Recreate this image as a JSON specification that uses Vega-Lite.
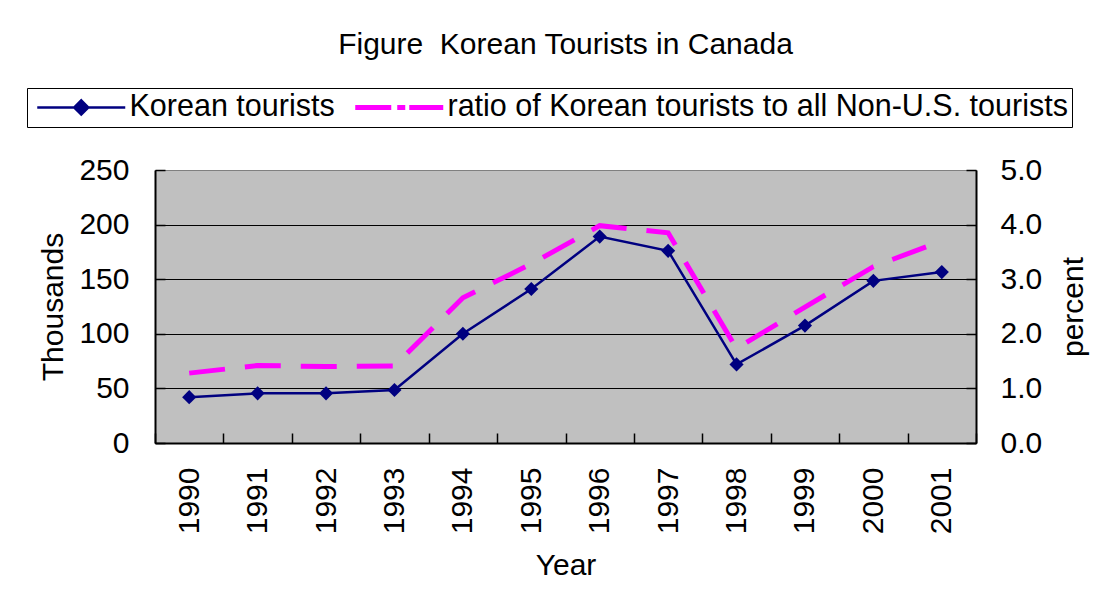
{
  "$schema": "https://vega.github.io/schema/vega-lite/v6.json",
  "width": 821,
  "height": 273,
  "autosize": "none",
  "padding": {"left": 155, "top": 170, "right": 128, "bottom": 157},
  "background": "white",
  "title": {
    "text": "Figure\u00a0 Korean Tourists in Canada",
    "font": "Liberation Sans",
    "fontSize": 30,
    "fontWeight": "normal",
    "color": "black",
    "anchor": "middle",
    "frame": "group",
    "offset": 28
  },
  "data": {
    "values": [
      {"year": "1990", "korean": 42, "ratio": 1.28},
      {"year": "1991", "korean": 45.5, "ratio": 1.42},
      {"year": "1992", "korean": 45.5, "ratio": 1.40},
      {"year": "1993", "korean": 48.5, "ratio": 1.41},
      {"year": "1994", "korean": 100, "ratio": 2.66},
      {"year": "1995", "korean": 141, "ratio": 3.28},
      {"year": "1996", "korean": 189, "ratio": 3.98},
      {"year": "1997", "korean": 176, "ratio": 3.85},
      {"year": "1998", "korean": 72, "ratio": 1.73},
      {"year": "1999", "korean": 107.5, "ratio": 2.49},
      {"year": "2000", "korean": 148.5, "ratio": 3.23},
      {"year": "2001", "korean": 156.5, "ratio": 3.70}
    ]
  },
  "encoding": {
    "x": {
      "field": "year",
      "type": "ordinal",
      "scale": {"type": "band", "paddingInner": 0, "paddingOuter": 0},
      "axis": {
        "title": "Year",
        "labelAngle": 270,
        "tickBand": "extent",
        "tickSize": -10,
        "labelPadding": 34,
        "titlePadding": 17
      }
    }
  },
  "layer": [
    {
      "mark": {"type": "line", "strokeWidth": 2.5},
      "encoding": {
        "y": {
          "field": "korean",
          "type": "quantitative",
          "scale": {"domain": [0, 250], "nice": false},
          "axis": {
            "title": "Thousands",
            "values": [0, 50, 100, 150, 200, 250],
            "grid": true,
            "gridColor": {"condition": {"test": "datum.value === 250", "value": "#808080"}, "value": "black"},
            "gridWidth": 1,
            "tickSize": -10,
            "labelPadding": 36,
            "titlePadding": 10
          }
        },
        "color": {
          "datum": "Korean tourists",
          "scale": {
            "domain": ["Korean tourists", "ratio of Korean tourists to all Non-U.S. tourists"],
            "range": ["#000080", "#FF00FF"]
          },
          "legend": {
            "orient": "none",
            "legendX": -128,
            "legendY": -82,
            "direction": "horizontal",
            "title": null,
            "strokeColor": "black",
            "padding": 4,
            "symbolSize": 7744,
            "symbolOffset": 35,
            "labelOffset": 33,
            "labelLimit": 1000,
            "columnPadding": 10,
            "labelFont": "Liberation Sans",
            "labelFontSize": 30.5,
            "labelColor": "black",
            "encode": {
              "symbols": {
                "update": {
                  "shape": {"signal": "datum.value === 'Korean tourists' ? 'M-1,0H1M0,-0.16L0.16,0L0,0.16L-0.16,0Z' : 'M-1,0H1'"},
                  "strokeDash": {"signal": "datum.value === 'Korean tourists' ? [] : [36, 6, 8, 4]"},
                  "fill": {"signal": "datum.value === 'Korean tourists' ? '#000080' : 'transparent'"},
                  "strokeWidth": {"signal": "datum.value === 'Korean tourists' ? 2.5 : 5"}
                }
              }
            }
          }
        }
      }
    },
    {
      "mark": {"type": "point", "shape": "diamond", "size": 200, "filled": true, "color": "#000080", "opacity": 1},
      "encoding": {
        "y": {"field": "korean", "type": "quantitative", "scale": {"domain": [0, 250], "nice": false}, "axis": null}
      }
    },
    {
      "mark": {"type": "line", "strokeWidth": 5, "strokeDash": [36, 20]},
      "encoding": {
        "y": {
          "field": "ratio",
          "type": "quantitative",
          "scale": {"domain": [0, 5], "nice": false},
          "axis": {
            "orient": "right",
            "title": "percent",
            "titleAngle": 270,
            "format": ".1f",
            "values": [0, 1, 2, 3, 4, 5],
            "grid": false,
            "tickSize": -10,
            "labelPadding": 34,
            "titlePadding": 47
          }
        },
        "color": {"datum": "ratio of Korean tourists to all Non-U.S. tourists"}
      }
    }
  ],
  "resolve": {"scale": {"y": "independent"}, "axis": {"y": "independent"}},
  "config": {
    "view": {"fill": "#C0C0C0", "stroke": "#808080", "strokeWidth": 1},
    "axis": {
      "labelFont": "Liberation Sans",
      "labelFontSize": 30,
      "labelColor": "black",
      "titleFont": "Liberation Sans",
      "titleFontSize": 30,
      "titleFontWeight": "normal",
      "titleColor": "black",
      "domainColor": "black",
      "domainWidth": 2,
      "tickColor": "black",
      "tickWidth": 1.5,
      "labelOverlap": false
    }
  }
}
